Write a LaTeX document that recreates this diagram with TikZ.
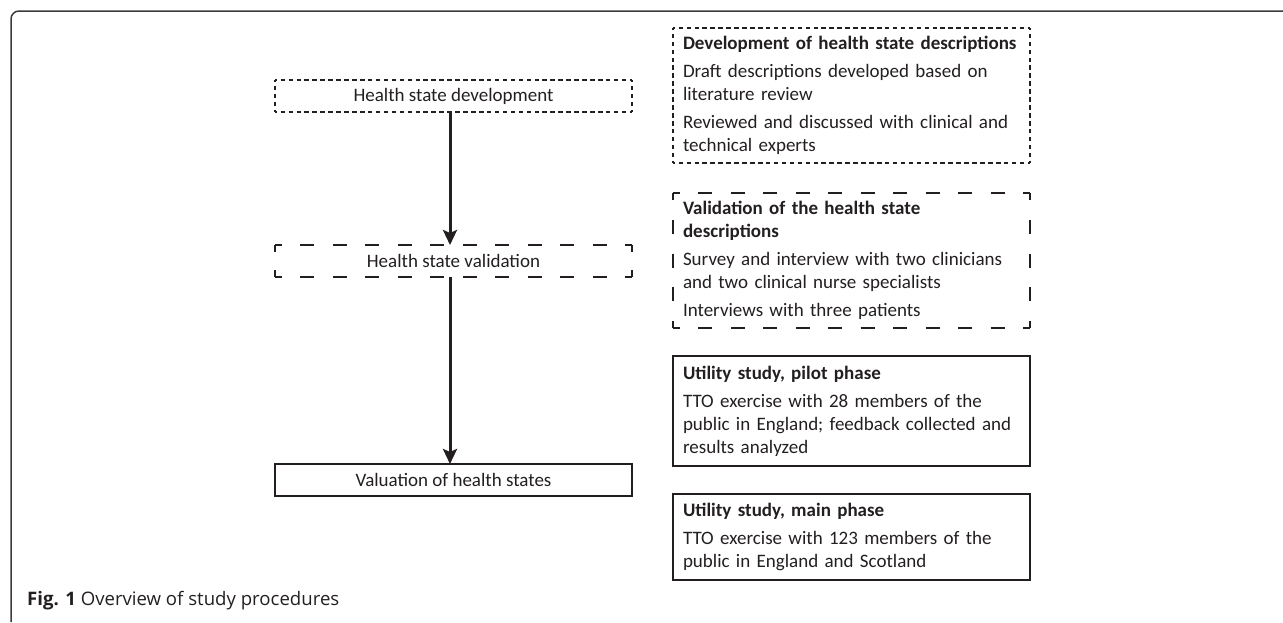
\documentclass[tikz,border=0pt]{standalone}
\usepackage{fontspec}
\setmainfont{Carlito}
\newfontfamily\capfont{Open Sans}
\usetikzlibrary{arrows.meta}
\definecolor{ink}{HTML}{231F20}
\definecolor{framegray}{HTML}{3C3C3C}
\newcommand\dsides[5]{%
  \pgfmathsetmacro\nh{max(1,round(#2/#5))}\pgfmathsetmacro\ph{#2/\nh}%
  \pgfmathsetmacro\nv{max(1,round(#3/#5))}\pgfmathsetmacro\pv{#3/\nv}%
  \pgfmathsetmacro\offh{\ph-#4}\pgfmathsetmacro\offv{\pv-#4}\pgfmathsetmacro\hf{#4/2}%
  \draw[boxline,dash pattern=on #4pt off \offh pt,dash phase=\hf pt]
    (#1.north west) -- (#1.north east) (#1.south west) -- (#1.south east);
  \draw[boxline,dash pattern=on #4pt off \offv pt,dash phase=\hf pt]
    (#1.north west) -- (#1.south west) (#1.north east) -- (#1.south east);}
\tikzset{
  boxline/.style={line width=2pt, draw=ink},
  lbox/.style={minimum width=357pt, minimum height=32pt, inner sep=0pt, outer sep=0pt,
    text=ink, font=\fontsize{19}{23}\selectfont},
  rbox/.style={anchor=north west, text width=337pt, inner xsep=10pt, inner ysep=0pt,
    outer sep=0pt, align=left, text=ink, font=\fontsize{19}{23}\selectfont},
  solidbox/.style={draw=ink, line width=2pt},
  flowarrow/.style={draw=ink, line width=3pt, -{Stealth[length=15pt,width=14pt,inset=3pt]}},
}
\begin{document}
\begin{tikzpicture}[x=1pt,y=-1pt]
\useasboundingbox (0,0) rectangle (1283,622);
% outer frame
\draw[framegray, line width=1.5pt, rounded corners=8pt] (1283,11) -- (11,11) -- (11,622);
% left flow
\node[lbox] (hd) at (453.5,96) {Health state development};
\node[lbox] (hv) at (453.5,261) {Health state validation};
\node[lbox, solidbox] (vh) at (453.5,480) {Valuation of health states};
\dsides{hd}{357}{32}{4.5}{8}
\dsides{hv}{357}{32}{14}{34}
\draw[flowarrow] ([xshift=-3.5pt]hd.south) -- ([xshift=-3.5pt]hv.north);
\draw[flowarrow] ([xshift=-3.5pt]hv.south) -- ([xshift=-3.5pt]vh.north);
% right descriptions
\node[rbox, minimum height=135pt] (rd) at (673,28) {\textbf{Development of health state descriptions}\\[5pt]
Draft descriptions developed based on\\ literature review\\[5pt]
Reviewed and discussed with clinical and\\ technical experts};
\dsides{rd}{357}{135}{4.5}{8}
\node[rbox, minimum height=135pt] (rv) at (673,193) {\textbf{Validation of the health state}\\ \textbf{descriptions}\\[5pt]
Survey and interview with two clinicians\\ and two clinical nurse specialists\\[5pt]
Interviews with three patients};
\dsides{rv}{357}{135}{14}{34}
\node[rbox, solidbox, minimum height=110pt] (rp) at (673,356) {\textbf{Utility study, pilot phase}\\[5pt]
TTO exercise with 28 members of the\\ public in England; feedback collected and\\ results analyzed};
\node[rbox, solidbox, minimum height=86pt] (rm) at (673,494) {\textbf{Utility study, main phase}\\[5pt]
TTO exercise with 123 members of the\\ public in England and Scotland};
% caption
\node[anchor=base west, inner sep=0pt, text=ink, font=\capfont\fontsize{18.6}{22}\selectfont] (cap) at (27,605) {\textbf{Fig. 1} Overview of study procedures};
\end{tikzpicture}
\end{document}
